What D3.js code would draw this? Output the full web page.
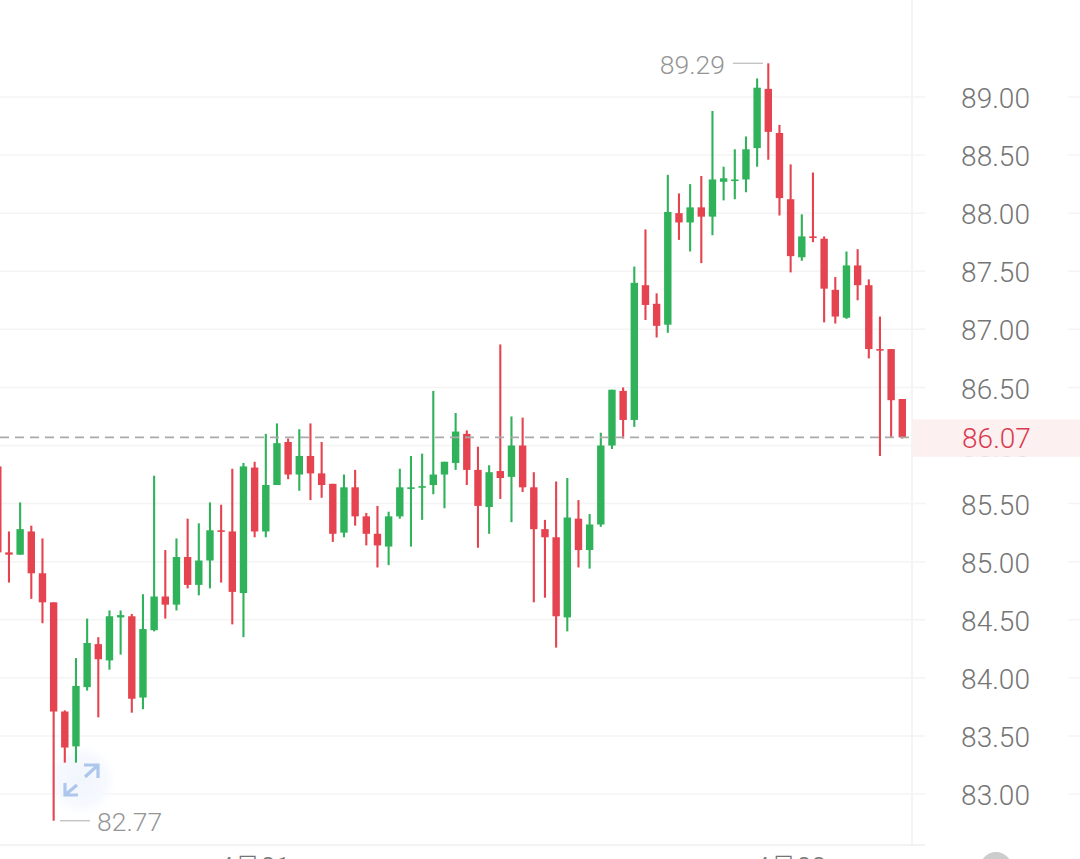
<!DOCTYPE html>
<html><head><meta charset="utf-8">
<script src="https://cdnjs.cloudflare.com/ajax/libs/d3/7.8.5/d3.min.js"></script>
<style>html,body{margin:0;padding:0;background:#fff;overflow:hidden}svg{display:block}text{font-family:Roboto,"Noto Sans CJK SC",sans-serif}</style>
</head><body><div id="chart"></div>
<script>
const opens=[85.82,85.08,85.06,85.26,84.90,84.65,83.71,83.41,83.92,84.29,84.15,84.52,84.53,83.83,84.41,84.70,84.63,85.04,84.80,85.01,85.27,85.26,84.73,85.81,85.26,85.66,86.03,85.75,85.91,85.76,85.67,85.25,85.64,85.39,85.24,85.13,85.39,85.63,85.64,85.66,85.75,85.85,86.10,85.79,85.47,85.78,85.73,86.00,85.64,85.28,85.21,84.52,85.37,85.10,85.32,86.00,86.47,86.22,87.38,87.22,87.04,88.00,87.92,88.05,87.97,88.27,88.29,88.29,88.56,89.07,88.69,88.12,87.62,87.80,87.78,87.34,87.10,87.55,87.38,86.83,86.83,86.40];
const highs=[85.82,85.26,85.51,85.31,85.20,84.65,83.72,84.17,84.51,84.35,84.58,84.58,84.55,84.72,85.74,85.10,85.20,85.37,85.33,85.51,85.49,85.80,85.85,85.86,86.10,86.19,86.06,86.14,86.19,86.03,85.67,85.75,85.79,85.42,85.48,85.43,85.80,85.91,85.93,86.47,85.86,86.28,86.13,85.99,85.83,86.87,86.25,86.24,85.77,85.36,85.69,85.72,85.53,85.41,86.11,86.48,86.50,87.54,87.86,87.31,88.33,88.17,88.25,88.32,88.88,88.40,88.55,88.66,89.16,89.29,88.76,88.42,87.99,88.35,87.80,87.45,87.67,87.69,87.43,87.11,86.83,86.40];
const lows=[85.08,84.82,85.06,84.68,84.47,82.77,83.27,83.27,83.89,83.66,84.07,84.20,83.70,83.73,84.40,84.51,84.58,84.77,84.71,84.77,84.82,84.46,84.35,85.21,85.21,85.66,85.71,85.61,85.53,85.55,85.17,85.21,85.31,85.14,84.95,84.97,85.37,85.13,85.36,85.58,85.46,85.79,85.66,85.12,85.24,85.54,85.34,85.60,84.65,84.69,84.26,84.40,84.95,84.94,85.30,85.97,86.06,86.16,87.08,86.93,86.97,87.77,87.67,87.57,87.81,88.11,88.12,88.18,88.40,88.46,87.98,87.49,87.59,87.75,87.06,87.05,87.09,87.25,86.75,85.91,86.07,86.06];
const closes=[85.08,85.06,85.28,84.90,84.65,83.71,83.40,83.93,84.30,84.16,84.53,84.54,83.82,84.42,84.70,84.63,85.04,84.80,85.01,85.27,85.26,84.74,85.82,85.26,85.66,86.02,85.75,85.91,85.76,85.66,85.24,85.64,85.39,85.24,85.14,85.39,85.64,85.64,85.65,85.75,85.86,86.12,85.79,85.48,85.77,85.72,86.00,85.64,85.28,85.21,84.53,85.38,85.10,85.32,86.00,86.48,86.22,87.40,87.21,87.03,88.01,87.92,88.05,87.97,88.29,88.30,88.29,88.55,89.08,88.70,88.13,87.63,87.80,87.79,87.35,87.11,87.55,87.38,86.83,86.82,86.39,86.07];
const yTicks=[83,83.5,84,84.5,85,85.5,86,86.5,87,87.5,88,88.5,89];
const xLabels=[{i:23,t:"4月21"},{i:71,t:"4月22"}];
const lastPrice=86.07, maxPrice=89.29, minPrice=82.77;
const RED="#e4434f",GREEN="#2fb25a";
const W=1080,H=859;
const x=d3.scaleLinear().domain([0,81]).range([-2.2,902.3]);
const y=d3.scaleLinear().domain([83,89]).range([794,97]);
const svg=d3.select("#chart").append("svg").attr("width",W).attr("height",H);

// grid
svg.append("g").selectAll("line").data(yTicks).join("line")
  .attr("x1",0).attr("x2",W).attr("y1",d=>y(d)).attr("y2",d=>y(d))
  .attr("stroke","#f4f4f4").attr("stroke-width",1.5);
svg.append("line").attr("x1",912).attr("x2",912).attr("y1",0).attr("y2",846).attr("stroke","#f4f4f4").attr("stroke-width",2);
svg.append("line").attr("x1",0).attr("x2",925).attr("y1",845).attr("y2",845).attr("stroke","#efefef").attr("stroke-width",1.5);

// y labels
const labs=svg.append("g").selectAll("g").data(yTicks).join("g").attr("transform",d=>`translate(995.5,${y(d)})`);
labs.append("rect").attr("x",-70).attr("width",143).attr("y",-3).attr("height",6).attr("fill","#fff");
labs.append("text").attr("text-anchor","middle").attr("y",1).attr("dy","0.36em").attr("font-size",28).attr("font-weight",300).attr("fill","#757575").text(d=>d3.format(".2f")(d));

// expand icon halo, beneath the marks
const defs=svg.append("defs");
const rg=defs.append("radialGradient").attr("id","halo");
rg.append("stop").attr("offset","0%").attr("stop-color","#f1f6fd").attr("stop-opacity",1);
rg.append("stop").attr("offset","70%").attr("stop-color","#f5f8fe").attr("stop-opacity",.9);
rg.append("stop").attr("offset","100%").attr("stop-color","#fafcff").attr("stop-opacity",0);
svg.append("circle").attr("cx",81).attr("cy",780).attr("r",36).attr("fill","url(#halo)");

// last price
svg.append("rect").attr("x",913).attr("width",167).attr("y",y(lastPrice)-18).attr("height",37.5).attr("fill","#fdf0f0");
svg.append("text").attr("x",996.5).attr("y",y(lastPrice)+1).attr("dy","0.36em").attr("text-anchor","middle").attr("font-size",28).attr("font-weight",300).attr("fill","#d93a50").text(d3.format(".2f")(lastPrice));

// candles
const data=opens.map((o,i)=>({i,o,h:highs[i],l:lows[i],c:closes[i]}));
const g=svg.append("g").selectAll("g").data(data).join("g").attr("fill",d=>d.c>=d.o?GREEN:RED).attr("stroke",d=>d.c>=d.o?GREEN:RED);
g.append("line").attr("x1",d=>x(d.i)).attr("x2",d=>x(d.i)).attr("y1",d=>y(d.h)).attr("y2",d=>y(d.l)).attr("stroke-width",2.1);
g.append("rect").attr("x",d=>x(d.i)-3.7).attr("width",7.4).attr("stroke","none")
  .attr("y",d=>Math.min(y(d.o),y(d.c))).attr("height",d=>Math.max(1.6,Math.abs(y(d.o)-y(d.c))));

// dashed last-price line
svg.append("line").attr("x1",0).attr("x2",910).attr("y1",y(lastPrice)).attr("y2",y(lastPrice))
  .attr("stroke","#aaaaaa").attr("stroke-width",1.6).attr("stroke-dasharray","9,6");

// extremes
svg.append("line").attr("x1",733).attr("x2",763).attr("y1",y(maxPrice)).attr("y2",y(maxPrice)).attr("stroke","#c4c4c4").attr("stroke-width",1.4);
svg.append("text").attr("x",725).attr("y",y(maxPrice)+1).attr("dy","0.36em").attr("text-anchor","end").attr("font-size",26.5).attr("font-weight",300).attr("fill","#959595").text(maxPrice.toFixed(2));
svg.append("line").attr("x1",60).attr("x2",90).attr("y1",y(minPrice)).attr("y2",y(minPrice)).attr("stroke","#c4c4c4").attr("stroke-width",1.4);
svg.append("text").attr("x",97).attr("y",y(minPrice)+1).attr("dy","0.36em").attr("text-anchor","start").attr("font-size",26.5).attr("font-weight",300).attr("fill","#959595").text(minPrice.toFixed(2));

// x labels (cut by the window edge)
svg.append("g").selectAll("text").data(xLabels).join("text")
  .attr("x",d=>x(d.i)).attr("y",877).attr("text-anchor","middle").attr("font-size",27).attr("font-weight",300).attr("fill","#757575").text(d=>d.t);

// scroll handle and expand arrows
svg.append("circle").attr("cx",996).attr("cy",868).attr("r",16).attr("fill","#cccccc");
svg.append("path").attr("d","M84 765H98V778M98 765L85 777M65 783V795H78M65 795L77 785")
  .attr("fill","none").attr("stroke","#adc6ec").attr("stroke-width",3.2);
</script></body></html>
